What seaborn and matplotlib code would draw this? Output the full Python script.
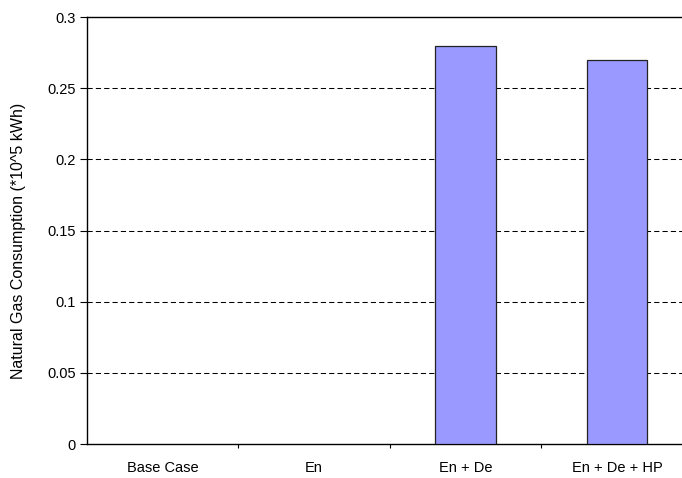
import matplotlib
matplotlib.use("Agg")
import matplotlib.pyplot as plt
import seaborn as sns
import pandas as pd
from matplotlib.ticker import FixedLocator, NullFormatter

categories = ["Base Case", "En", "En + De", "En + De + HP"]
values = [0.0, 0.0, 0.28, 0.27]
yticks = [0, 0.05, 0.1, 0.15, 0.2, 0.25, 0.3]
ytick_labels = ["0", "0.05", "0.1", "0.15", "0.2", "0.25", "0.3"]
ylabel = "Natural Gas Consumption (*10^5 kWh)"

sns.set_style("white")
plt.rcParams["font.family"] = ["Liberation Sans", "DejaVu Sans"]
plt.rcParams["font.size"] = 10.5
plt.rcParams["text.color"] = "black"
plt.rcParams["axes.labelcolor"] = "black"
plt.rcParams["xtick.color"] = "black"
plt.rcParams["ytick.color"] = "black"

df = pd.DataFrame({"cat": categories, "val": values})

fig = plt.figure(figsize=(6.82, 4.78), dpi=100)
ax = fig.add_axes([0.127, 0.071, 0.889, 0.893])

sns.barplot(data=df, x="cat", y="val", ax=ax, color="#9999FF", width=0.4,
            edgecolor="#222222", linewidth=0.9, saturation=1, zorder=3)
for p in ax.patches:
    if p.get_height() == 0:
        p.set_visible(False)

ax.set_xlim(-0.5, 3.5)
ax.set_ylim(0, 0.3)
ax.set_yticks(yticks)
ax.set_yticklabels(ytick_labels)
ax.set_xlabel("")
ax.set_ylabel(ylabel, fontsize=11.5)
ax.yaxis.set_label_coords(-0.100, 0.475)

for y in yticks[1:-1]:
    ax.axhline(y, color="black", linestyle=(0, (5, 3)), linewidth=0.75, zorder=1)

for side in ["top", "left", "bottom"]:
    ax.spines[side].set_visible(True)
    ax.spines[side].set_color("black")
    ax.spines[side].set_linewidth(1.0)
ax.spines["right"].set_visible(False)

ax.tick_params(axis="y", direction="out", length=5, width=0.8, colors="black", pad=3, left=True)
ax.tick_params(axis="x", which="major", length=0, pad=12, colors="black")
ax.xaxis.set_minor_locator(FixedLocator([0.5, 1.5, 2.5]))
ax.xaxis.set_minor_formatter(NullFormatter())
ax.tick_params(axis="x", which="minor", direction="out", length=3, width=0.8, color="black", bottom=True)

fig.savefig("out.png", dpi=100)
